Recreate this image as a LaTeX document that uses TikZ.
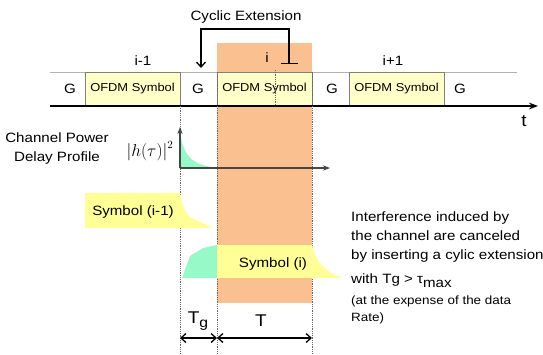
\documentclass[tikz,border=0pt]{standalone}
\usepackage{fontspec}
\setmainfont{Liberation Sans}[FakeStretch=1.12]
\usepackage{tikz}
\usetikzlibrary{arrows.meta}
\definecolor{symfill}{RGB}{255,255,200}
\definecolor{peach}{RGB}{250,192,144}
\definecolor{symyel}{RGB}{255,255,150}
\definecolor{mint}{RGB}{150,250,200}
\definecolor{axisgray}{RGB}{70,70,70}
\begin{document}
\begin{tikzpicture}[x=1pt,y=-1pt,
  lbl/.style={font=\fontsize{13.5}{19}\selectfont,inner sep=0pt},
  ofdm/.style={draw=gray,fill=symfill,minimum width=95pt,minimum height=34pt,inner sep=0pt,font=\fontsize{11.5}{13}\selectfont},
  vdot/.style={densely dotted,gray!80!black,line width=0.8pt}]
\useasboundingbox (0,0) rectangle (543,354);
% symbol window i
\fill[peach] (217,43) rectangle (312,303);
% time line
\draw[gray!60] (50,72) -- (517,72);
\node[ofdm] (sym1) at (132.5,89) {OFDM Symbol};
\node[ofdm] (sym2) at (264.5,89) {OFDM Symbol};
\node[ofdm] (sym3) at (396.5,89) {OFDM Symbol};
\draw[vdot] (275,70) -- (275,106);
\foreach \x/\nm in {70/g0,198/g1,332/g2,460/g3}
  \node[lbl] (\nm) at (\x,89) {G};
\draw[line width=1.6pt,-{Stealth[length=9pt]}] (50,106) -- (538,106);
\node[lbl,font=\fontsize{17}{19}\selectfont] (tlab) at (524,121) {t};
\node[lbl] (idx1) at (143,61) {i-1};
\node[lbl] (idx2) at (267,58) {i};
\node[lbl] (idx3) at (393,61) {i+1};
% cyclic extension
\node[lbl] (cyc) at (246,17) {Cyclic Extension};
\coordinate (extsrc) at (289,64);
\coordinate (gtop) at (201,68);
\draw[line width=1.3pt,{Bar[width=17pt]}-{Straight Barb[length=5pt,width=9pt]}] (extsrc) -- (289,29) -| (gtop);
% dotted guides
\draw[vdot] (180,106) -- (180,354);
\draw[vdot] (217,72) -- (217,354);
\draw[vdot] (312,72) -- (312,354);
% power delay profile
\node[lbl,align=center] (pdp) at (57,149) {Channel Power\\Delay Profile};
\node[font=\fontsize{16}{18}\selectfont] (habs) at (150,151) {$\bigl|h(\tau)\bigr|^2$};
\fill[mint] (181,138) .. controls (186,160) and (195,164) .. (212,167) -- (181,167) -- cycle;
\coordinate (orig) at (180,168);
\draw[axisgray,line width=1.3pt,-{Stealth[length=7pt]}] (orig) -- (180,127);
\draw[axisgray,line width=1.3pt,-{Stealth[length=7pt]}] (orig) -- (330,168);
% received symbols
\fill[symyel] (85,193) rectangle (180,228);
\fill[symyel] (180,193) .. controls (184,210) .. (190,217) -- (213,228) -- (180,228) -- cycle;
\node[lbl] (rx1) at (133,212) {Symbol (i-1)};
\fill[mint] (182,278) -- (190,256) -- (203,248) -- (217,245) -- (217,278) -- cycle;
\fill[symyel] (217,245) rectangle (312,278);
\fill[symyel] (312,245) .. controls (316,262) and (325,272) .. (343,278) -- (312,278) -- cycle;
\node[lbl] (rx2) at (273,264) {Symbol (i)};
% explanation
\node[lbl,align=left,anchor=north west] (note) at (351,212) {Interference induced by\\the channel are canceled\\by inserting a cylic extension};
\node[lbl,anchor=north west] (cond) at (351,274) {with Tg > τ\raisebox{-4pt}{max}};
\node[lbl,align=left,anchor=north west,font=\fontsize{12}{17}\selectfont] (cost) at (351,296) {(at the expense of the data\\Rate)};
% durations
\coordinate (ta) at (180,338);
\coordinate (tb) at (217,338);
\coordinate (tc) at (312,338);
\draw[line width=1.3pt,{Straight Barb[length=5pt,width=9pt]}-{Straight Barb[length=5pt,width=9pt]}] (ta) -- (tb);
\draw[line width=1.3pt,{Straight Barb[length=5pt,width=9pt]}-{Straight Barb[length=5pt,width=9pt]}] (tb) -- (tc);
\node[font=\fontsize{17}{19}\selectfont] (tglab) at (198,321) {T\raisebox{-4pt}{\fontsize{14}{15}\selectfont g}};
\node[font=\fontsize{17}{19}\selectfont] (tlen) at (261,321) {T};
\end{tikzpicture}
\end{document}
